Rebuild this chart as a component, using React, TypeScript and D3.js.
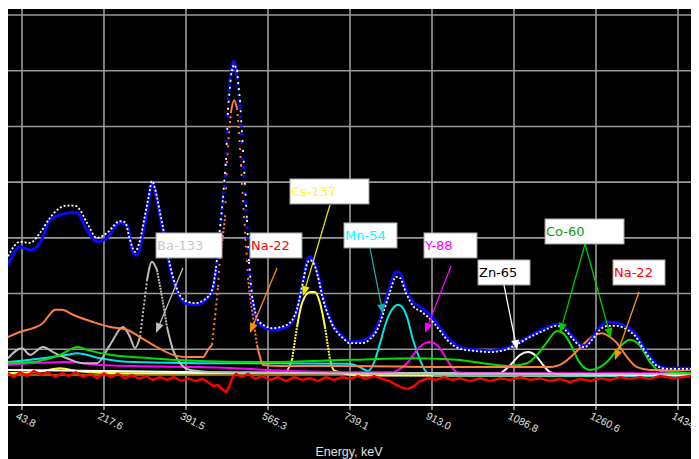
import React from "react";
import * as d3 from "d3";

const W = 691;
const H = 451;

// Axis ticks (energy, keV)
const tickValues = [43.8, 217.6, 391.5, 565.3, 739.1, 913.0, 1086.8, 1260.6, 1434.5];
const tickLabels = ["43.8", "217.6", "391.5", "565.3", "739.1", "913.0", "1086.8", "1260.6", "1434.5"];
const gridCounts = [100, 200, 300, 400, 500, 600, 700];

// Series: [energy keV, counts]
const totalSpectrum: [number, number][] = [
  [14.1, 251], [39.6, 284], [60.8, 278], [82.0, 291], [103.2, 332], [124.4, 341], [145.6, 345], [160.4, 345],
  [181.6, 314], [202.8, 293], [224.0, 300], [251.6, 327], [266.4, 323], [279.1, 273], [287.6, 269], [300.3, 309],
  [310.9, 359], [319.4, 398], [327.9, 377], [336.4, 341], [346.9, 296], [357.6, 246], [372.4, 206], [389.4, 183],
  [410.6, 180], [431.8, 188], [446.6, 203], [455.1, 242], [463.6, 314], [469.9, 368], [474.2, 409], [478.4, 488],
  [480.5, 547], [484.8, 583], [489.0, 609], [493.2, 617], [499.6, 589], [506.0, 535], [512.3, 440], [520.8, 320],
  [525.0, 246], [531.4, 192], [542.0, 153], [554.7, 140], [575.9, 135], [605.6, 140], [626.8, 171], [639.5, 221],
  [648.0, 257], [654.4, 266], [662.8, 257], [671.3, 233], [681.9, 194], [701.0, 147], [724.3, 122], [739.2, 113],
  [764.6, 115], [781.6, 122], [798.5, 144], [809.1, 171], [824.0, 212], [836.7, 239], [845.2, 237], [857.9, 206],
  [872.7, 185], [891.8, 174], [915.1, 156], [930.0, 138], [944.8, 122], [972.4, 104], [1004.2, 99], [1036.0, 97],
  [1067.8, 101], [1093.2, 111], [1120.8, 124], [1148.3, 136], [1178.0, 145], [1195.0, 138], [1211.9, 122],
  [1226.8, 108], [1237.4, 106], [1252.2, 120], [1269.2, 140], [1284.0, 149], [1305.2, 147], [1326.4, 140],
  [1343.4, 129], [1360.3, 106], [1375.2, 86], [1390.0, 72], [1411.2, 66], [1479.0, 66],
];

const fitSpectrum: [number, number][] = [
  [14.1, 267], [39.6, 293], [60.8, 291], [82.0, 309], [103.2, 336], [118.0, 350], [139.2, 358], [156.2, 358],
  [166.8, 350], [181.6, 327], [202.8, 300], [224.0, 309], [251.6, 330], [262.2, 328], [272.8, 296], [283.4, 275],
  [294.0, 296], [304.6, 341], [313.0, 377], [319.4, 402], [327.9, 381], [336.4, 345], [346.9, 300], [357.6, 251],
  [372.4, 208], [389.4, 187], [410.6, 183], [431.8, 190], [446.6, 206], [455.1, 246], [463.6, 318], [469.9, 372],
  [476.3, 440], [480.5, 530], [486.9, 592], [493.2, 610], [499.6, 601], [506.0, 547], [512.3, 458], [520.8, 332],
  [525.0, 257], [531.4, 196], [542.0, 156], [554.7, 144], [575.9, 138], [605.6, 144], [626.8, 172], [639.5, 221],
  [648.0, 253], [654.4, 260], [662.8, 253], [671.3, 230], [681.9, 190], [701.0, 145], [724.3, 120], [739.2, 111],
  [764.6, 111], [781.6, 118], [798.5, 138], [809.1, 163], [824.0, 203], [836.7, 230], [845.2, 228], [857.9, 201],
  [872.7, 178], [891.8, 167], [915.1, 149], [930.0, 133], [944.8, 117], [972.4, 101], [1004.2, 97], [1036.0, 95],
  [1067.8, 99], [1093.2, 109], [1120.8, 122], [1148.3, 133], [1178.0, 142], [1195.0, 135], [1211.9, 118],
  [1226.8, 106], [1237.4, 104], [1252.2, 117], [1269.2, 135], [1284.0, 142], [1305.2, 142], [1326.4, 135],
  [1343.4, 124], [1360.3, 102], [1375.2, 83], [1390.0, 70], [1411.2, 65], [1479.0, 65],
];

const na22: [number, number][] = [
  [14.1, 122], [39.6, 131], [67.1, 138], [88.3, 147], [103.2, 163], [113.8, 171], [128.6, 171], [151.9, 162],
  [194.3, 149], [230.4, 140], [266.4, 135], [294.0, 122], [321.5, 108], [363.9, 90], [393.6, 86], [427.5, 86],
  [438.1, 99], [446.6, 108], [453.0, 158], [459.3, 212], [463.6, 266], [469.9, 305], [474.2, 337], [478.4, 434],
  [482.6, 488], [486.9, 526], [493.2, 547], [499.6, 533], [503.8, 490], [508.1, 431], [512.3, 368], [516.6, 311],
  [520.8, 260], [522.9, 228], [527.2, 197], [533.5, 158], [542.0, 108], [548.4, 86], [554.7, 72], [590.8, 70],
  [739.2, 70], [951.2, 68], [1120.8, 68], [1163.2, 68], [1190.7, 75], [1211.9, 90], [1233.1, 108], [1254.3, 124],
  [1273.4, 129], [1290.4, 122], [1305.2, 111], [1326.4, 86], [1347.6, 68], [1375.2, 63], [1479.0, 63],
];

const ba133: [number, number][] = [
  [14.1, 84], [43.8, 102], [60.8, 90], [88.3, 104], [109.5, 95], [139.2, 84], [173.1, 75], [202.8, 75],
  [230.4, 108], [257.9, 140], [272.8, 122], [283.4, 102], [294.0, 122], [300.3, 165], [308.8, 224], [319.4, 257],
  [330.0, 242], [340.6, 194], [351.2, 140], [363.9, 99], [378.8, 75], [400.0, 63], [457.2, 59], [633.2, 57],
  [1479.0, 55],
];

const cs137: [number, number][] = [
  [14.1, 57], [82.0, 60], [124.4, 66], [166.8, 60], [251.6, 57], [421.2, 57], [601.4, 58], [616.2, 81],
  [626.8, 140], [637.4, 183], [654.4, 203], [665.0, 203], [675.6, 183], [686.2, 140], [696.8, 81], [705.2, 62],
  [760.4, 53], [1479.0, 52],
];

const mn54: [number, number][] = [
  [14.1, 77], [88.3, 84], [139.2, 90], [160.4, 93], [209.2, 84], [279.1, 77], [421.2, 75], [563.2, 75],
  [737.0, 74], [764.6, 66], [777.3, 61], [792.2, 81], [802.8, 111], [817.6, 153], [830.3, 174], [840.9, 180],
  [851.5, 174], [860.0, 158], [872.7, 117], [887.6, 81], [902.4, 58], [930.0, 53], [1479.0, 52],
];

const co60: [number, number][] = [
  [14.1, 75], [67.1, 77], [124.4, 90], [162.5, 104], [181.6, 99], [230.4, 90], [315.2, 84], [421.2, 79],
  [563.2, 77], [739.2, 81], [881.2, 84], [966.0, 81], [1021.1, 75], [1078.4, 70], [1114.4, 75], [1135.6, 90],
  [1156.8, 113], [1178.0, 133], [1190.7, 129], [1205.6, 111], [1226.8, 75], [1248.0, 63], [1269.2, 68],
  [1286.1, 79], [1305.2, 99], [1332.8, 117], [1354.0, 106], [1375.2, 77], [1396.4, 61], [1479.0, 57],
];

const y88: [number, number][] = [
  [14.1, 72], [139.2, 77], [209.2, 72], [421.2, 68], [737.0, 59], [830.3, 59], [845.2, 65], [860.0, 75],
  [881.2, 99], [898.2, 111], [908.8, 113], [923.6, 108], [944.8, 81], [966.0, 59], [993.6, 57], [1479.0, 57],
];

const zn65: [number, number][] = [
  [14.1, 63], [209.2, 61], [421.2, 59], [739.2, 57], [1057.2, 57], [1067.8, 63], [1082.6, 75], [1099.6, 90],
  [1116.5, 95], [1133.5, 88], [1148.3, 72], [1163.2, 59], [1184.4, 55], [1479.0, 54],
];

const background: [number, number][] = [[14.1, 54], [1479.0, 54]];

const residual: [number, number][] = [
  [14.1, 57], [26.8, 50], [39.6, 59], [54.4, 52], [69.2, 61], [84.1, 54], [98.9, 59], [113.8, 50], [128.6, 57],
  [143.4, 52], [158.3, 59], [173.1, 50], [188.0, 56], [202.8, 48], [217.6, 57], [232.5, 50], [247.3, 56],
  [262.2, 48], [277.0, 54], [291.8, 47], [306.7, 52], [321.5, 45], [336.4, 50], [351.2, 45], [366.0, 50],
  [380.9, 43], [395.7, 48], [410.6, 43], [425.4, 47], [438.1, 41], [448.7, 34], [459.3, 36], [467.8, 29],
  [476.3, 23], [482.6, 32], [489.0, 48], [497.5, 56], [510.2, 50], [522.9, 56], [537.8, 47], [552.6, 52],
  [569.6, 45], [586.5, 50], [603.5, 43], [620.4, 50], [637.4, 45], [654.4, 48], [671.3, 43], [688.3, 50],
  [705.2, 45], [722.2, 50], [739.2, 47], [756.1, 52], [773.1, 47], [790.0, 52], [807.0, 47], [824.0, 43],
  [836.7, 36], [849.4, 31], [862.1, 29], [874.8, 34], [887.6, 43], [904.5, 48], [921.5, 45], [938.4, 50],
  [955.4, 45], [972.4, 48], [993.6, 43], [1014.8, 48], [1036.0, 43], [1057.2, 48], [1078.4, 45], [1099.6, 50],
  [1120.8, 45], [1142.0, 48], [1163.2, 43], [1184.4, 47], [1205.6, 41], [1226.8, 47], [1248.0, 43], [1269.2, 48],
  [1290.4, 45], [1311.6, 50], [1332.8, 47], [1354.0, 50], [1375.2, 47], [1396.4, 52], [1428.2, 48], [1460.0, 52],
  [1479.0, 50],
];

// Annotation labels
const labelNames = ["Ba-133", "Na-22", "Cs-137", "Mn-54", "Y-88", "Zn-65", "Co-60", "Na-22"];
const labelColors = ["#c8c8c8", "#ff0000", "#ffff00", "#00ffff", "#ff00ff", "#000000", "#129a12", "#ff0000"];
const labelBoxE = [327.9, 527.1, 611.9, 726.4, 896.0, 1010.5, 1152.6, 1296.7];
const labelBoxC = [308.8, 308.8, 405.7, 326.8, 308.8, 260.3, 333.9, 260.3];
const labelBoxW = [66, 52, 79, 53, 53, 52, 79, 52];

const arrowFrom: [number, number][] = [
  [385.1, 246.0], [584.4, 246.0], [696.7, 359.1], [781.5, 281.9], [953.3, 249.6], [1065.6, 215.4],
  [1237.4, 289.0], [1237.4, 289.0], [1351.9, 202.9],
];
const arrowTo: [number, number][] = [
  [327.9, 129.3], [527.1, 129.3], [639.5, 195.7], [809.1, 163.4], [898.2, 129.3], [1093.3, 98.7],
  [1184.4, 129.3], [1292.5, 120.3], [1301.0, 80.8],
];
const arrowColors = ["#c0c0c0", "#ff8c00", "#e8e800", "#20a8a8", "#ff00ff", "#ffffff", "#00cc00", "#00cc00", "#ff9900"];

const x = d3.scaleLinear().domain([43.8, 1434.5]).range([14, 670]);
const y = d3.scaleLinear().domain([0, 700]).range([397, 7]);

type Run = { pts: [number, number][]; gap: number };

function toRuns(points: [number, number][], dash: number, k: number, minGap: number): Run[] {
  const px = points.map(([e, c]) => [x(e), y(c)] as [number, number]);
  const out: Run[] = [];
  let cur: [number, number][] = [px[0]];
  let curGap: number | null = null;
  for (let i = 1; i < px.length; i++) {
    const dx = px[i][0] - px[i - 1][0];
    const dy = px[i][1] - px[i - 1][1];
    const s = Math.abs(dy) / Math.max(dx, 0.01);
    const gap = Math.max(minGap, Math.round(Math.max(0, k * Math.sqrt(1 + s * s) - dash)));
    if (curGap === null) curGap = gap;
    if (gap !== curGap) {
      out.push({ pts: cur, gap: curGap });
      cur = [px[i - 1]];
      curGap = gap;
    }
    cur.push(px[i]);
  }
  out.push({ pts: cur, gap: curGap ?? 0 });
  return out;
}

const smooth = d3.line<[number, number]>().x((d) => d[0]).y((d) => d[1]).curve(d3.curveMonotoneX);
const straight = d3.line<[number, number]>().x((d) => d[0]).y((d) => d[1]);

function Series({ data, color, width, dash = 2, k = 0.5, minGap = 0, linear = false }: {
  data: [number, number][]; color: string; width: number; dash?: number; k?: number; minGap?: number; linear?: boolean;
}) {
  const runs = toRuns(data, dash, k, minGap);
  const gen = linear ? straight : smooth;
  return (
    <g>
      {runs.map((r, i) => (
        <path
          key={i}
          d={gen(r.pts) || ""}
          fill="none"
          stroke={color}
          strokeWidth={width}
          strokeDasharray={r.gap > 0 ? `${dash} ${r.gap}` : undefined}
          strokeLinejoin="round"
        />
      ))}
    </g>
  );
}

export default function App() {
  const font = "'DejaVu Sans', Verdana, sans-serif";
  return (
    <svg width={W} height={H} style={{ display: "block" }}>
      <rect x={0} y={1} width={W} height={H - 1} fill="#000" />
      {/* grid */}
      {gridCounts.map((c) => (
        <line key={"h" + c} x1={0} x2={W} y1={y(c)} y2={y(c)} stroke="#9a9a9a" strokeWidth={1.6} />
      ))}
      {tickValues.map((t) => (
        <line key={"v" + t} x1={x(t)} x2={x(t)} y1={1} y2={y(0) + 5} stroke="#9a9a9a" strokeWidth={1.6} />
      ))}
      <line x1={0} x2={W} y1={y(0)} y2={y(0)} stroke="#f0f0f0" strokeWidth={2} />
      {tickValues.map((t, i) => (
        <text
          key={"t" + t}
          transform={`translate(${x(t) - 3},${y(0) + 6}) rotate(27)`}
          dy={8}
          fontSize={10.5}
          fontFamily="'Liberation Sans', Arial, sans-serif"
          fill="#e0e0e0"
        >
          {tickLabels[i]}
        </text>
      ))}
      <text x={341} y={448} textAnchor="middle" fontSize={12.5} fontFamily="'Liberation Sans', Arial, sans-serif" fill="#e0e0e0">
        Energy, keV
      </text>

      {/* series */}
      <Series data={background} color="#807000" width={2} />
      <Series data={cs137} color="#ffff40" width={2} />
      <Series data={mn54} color="#00e5e5" width={2} />
      <Series data={zn65} color="#ffffff" width={2} />
      <Series data={y88} color="#ff00ff" width={2} />
      <Series data={ba133} color="#bdbdbd" width={2} />
      <Series data={co60} color="#00e000" width={2} />
      <Series data={na22} color="#ff7f40" width={2} />
      <Series data={residual} color="#ff0000" width={2.4} linear />
      <Series data={totalSpectrum} color="#0a0aff" width={3} dash={2.5} />
      <Series data={fitSpectrum} color="#ffffff" width={1.8} dash={2} k={0.6} minGap={2} />

      {/* annotations */}
      {arrowFrom.map((f, i) => {
        const x1 = x(f[0]), y1 = y(f[1]);
        const x2 = x(arrowTo[i][0]), y2 = y(arrowTo[i][1]);
        const ang = Math.atan2(y2 - y1, x2 - x1);
        const L = 10, hw = 4;
        const bx = x2 - L * Math.cos(ang), by = y2 - L * Math.sin(ang);
        const px = -Math.sin(ang) * hw, py = Math.cos(ang) * hw;
        return (
          <g key={"a" + i}>
            <line x1={x1} y1={y1} x2={bx} y2={by} stroke={arrowColors[i]} strokeWidth={1.3} />
            <polygon points={`${x2},${y2} ${bx + px},${by + py} ${bx - px},${by - py}`} fill={arrowColors[i]} />
          </g>
        );
      })}
      {labelNames.map((n, i) => {
        const bx = x(labelBoxE[i]);
        const by = y(labelBoxC[i]);
        return (
          <g key={"l" + i}>
            <rect x={bx} y={by} width={labelBoxW[i]} height={25} fill="#ffffff" stroke="#a0a0a0" strokeWidth={1} />
            <text x={bx + 1} y={by + 17} fontSize={13} fontFamily={font} fill={labelColors[i]}>
              {n}
            </text>
          </g>
        );
      })}
    </svg>
  );
}
